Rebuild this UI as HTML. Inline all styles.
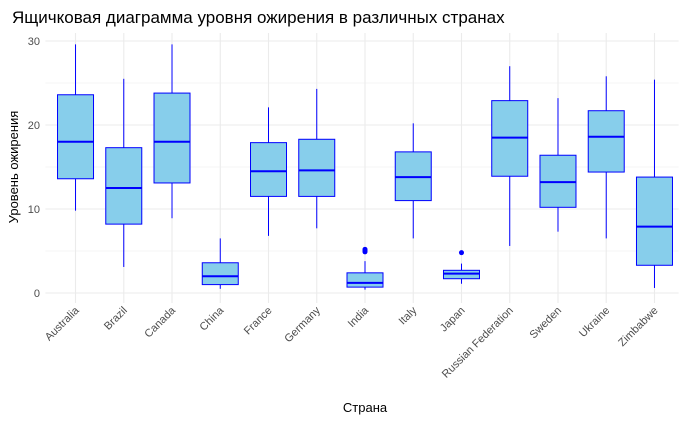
<!DOCTYPE html>
<html><head><meta charset="utf-8"><style>
body{margin:0;background:#fff}
svg text{font-family:"Liberation Sans","DejaVu Sans",sans-serif}
</style></head><body>
<svg id="chart" width="691" height="422">
<text x="12" y="23" font-size="17" fill="#000">Ящичковая диаграмма уровня ожирения в различных странах</text>
<g id="grid"></g><g id="boxes"></g><g id="axes"></g>
<text x="365" y="412" font-size="13" text-anchor="middle" fill="#000">Страна</text>
<text transform="translate(18,167) rotate(-90)" font-size="13" text-anchor="middle" fill="#000">Уровень ожирения</text>
</svg>
<script>
const categories=["Australia","Brazil","Canada","China","France","Germany","India","Italy","Japan","Russian Federation","Sweden","Ukraine","Zimbabwe"];
const lowWhisker=[9.8,3.1,8.9,0.5,6.8,7.7,0.4,6.5,1.1,5.6,7.3,6.5,0.6];
const q1=[13.6,8.2,13.1,1.0,11.5,11.5,0.7,11.0,1.7,13.9,10.2,14.4,3.3];
const median=[18.0,12.5,18.0,2.0,14.5,14.6,1.2,13.8,2.3,18.5,13.2,18.6,7.9];
const q3=[23.6,17.3,23.8,3.6,17.9,18.3,2.4,16.8,2.7,22.9,16.4,21.7,13.8];
const highWhisker=[29.6,25.5,29.6,6.5,22.1,24.3,3.8,20.2,3.5,27.0,23.2,25.8,25.4];
const outliers=[[],[],[],[],[],[],[4.9,5.0,5.1,5.2],[],[4.8],[],[],[],[]];
const yTicks=[0,10,20,30];
const ns="http://www.w3.org/2000/svg";
const L=51.4,R=678.6,T=33,B=303;
const y=v=>293-8.4*v;
const step=(R-L)/categories.length;
const x=i=>L+step*(i+0.5);
const bw=36;
function mk(t,a,p){const e=document.createElementNS(ns,t);for(const k in a)e.setAttribute(k,a[k]);p.appendChild(e);return e;}
const grid=document.getElementById("grid"),boxes=document.getElementById("boxes"),axes=document.getElementById("axes");
for(let v=0;v<=30;v+=5){const g=mk("line",{x1:L-6,x2:R,y1:y(v),y2:y(v),stroke:"#ebebeb","stroke-width":v%10?0.6:1.1},grid);

}
yTicks.forEach(v=>{const t=mk("text",{x:40,y:y(v)+4,"font-size":11,"text-anchor":"end",fill:"#4d4d4d"},axes);t.textContent=v;

});
categories.forEach((c,i)=>{
const cx=x(i);
const gl=mk("line",{x1:cx,x2:cx,y1:T,y2:B,stroke:"#ebebeb","stroke-width":1.1},grid);


const g=mk("g",{},boxes);


mk("line",{x1:cx,x2:cx,y1:y(highWhisker[i]),y2:y(q3[i]),stroke:"#0000ff","stroke-width":1},g);
mk("line",{x1:cx,x2:cx,y1:y(q1[i]),y2:y(lowWhisker[i]),stroke:"#0000ff","stroke-width":1},g);
mk("rect",{x:cx-bw/2,y:y(q3[i]),width:bw,height:y(q1[i])-y(q3[i]),fill:"#87ceeb",stroke:"#0000ff","stroke-width":1},g);
mk("line",{x1:cx-bw/2,x2:cx+bw/2,y1:y(median[i]),y2:y(median[i]),stroke:"#0000ff","stroke-width":2},g);
outliers[i].forEach(o=>{const p=mk("circle",{cx:cx,cy:y(o),r:2.5,fill:"#0000ff"},g);

});
const t=mk("text",{transform:`translate(${cx+4},${B+8}) rotate(-45)`,"font-size":11,"text-anchor":"end",fill:"#4d4d4d"},axes);
t.textContent=c;


});
</script>
</body></html>
